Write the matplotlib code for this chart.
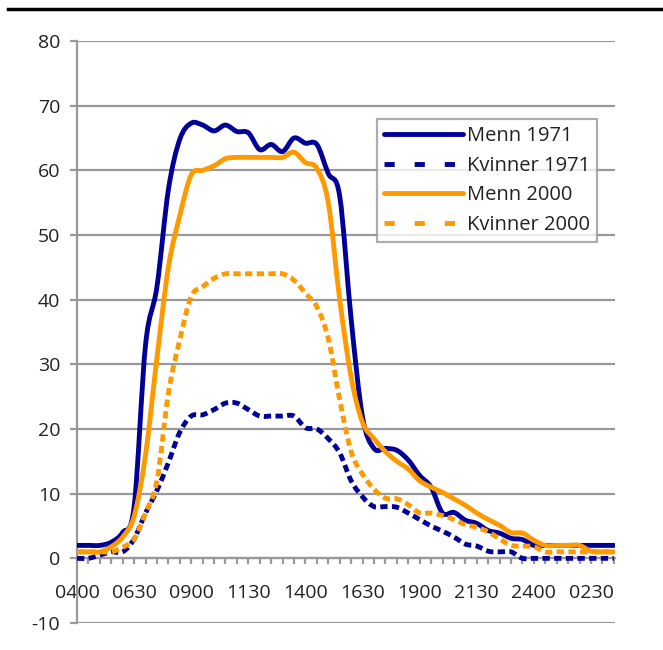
"""
Andel i arbeid gjennom døgnet, menn og kvinner 1971 og 2000
"""
import numpy as np
import matplotlib
matplotlib.use('Agg')
import matplotlib.pyplot as plt
from matplotlib.lines import Line2D
from matplotlib.path import Path
from matplotlib.patches import PathPatch

plt.rcParams['font.family'] = ['Open Sans', 'DejaVu Sans']
plt.rcParams['axes.unicode_minus'] = False

# klokkeslett (hver halvtime fra 0400 til 0330)
tider = ['0400', '0430', '0500', '0530', '0600', '0630', '0700', '0730',
         '0800', '0830', '0900', '0930', '1000', '1030', '1100', '1130',
         '1200', '1230', '1300', '1330', '1400', '1430', '1500', '1530',
         '1600', '1630', '1700', '1730', '1800', '1830', '1900', '1930',
         '2000', '2030', '2100', '2130', '2200', '2230', '2300', '2330',
         '2400', '0030', '0100', '0130', '0200', '0230', '0300', '0330']

menn_1971 = [2, 2, 2, 2.5, 4, 8, 33, 42,
             57, 64.8, 67.3, 67, 66.1, 67, 66, 65.8,
             63.2, 64, 62.9, 65, 64.2, 64, 59.5, 56,
             37, 21.8, 17, 17, 16.7, 15.2, 12.8, 11,
             7, 7.1, 5.9, 5.4, 4.3, 3.9, 3.1, 2.9,
             2, 2, 2, 2, 2, 2, 2, 2]

kvinner_1971 = [0, 0, 0.5, 1, 1, 3, 7, 10.5,
                14.8, 19.5, 22, 22.2, 23, 24, 24, 23,
                22, 22, 22, 22, 20.2, 20, 18.5, 16.3,
                12, 9.5, 8, 8, 7.9, 7, 6, 5,
                4.2, 3.3, 2.2, 1.9, 1.1, 1, 1, 0,
                0, 0, 0, 0, 0, 0, 0, 0]

menn_2000 = [1, 1, 1, 1.8, 3.3, 6.5, 16, 31,
             45, 53, 59.3, 60, 60.7, 61.8, 62, 62,
             62, 62, 62, 62.8, 61.2, 60.3, 55, 40,
             28, 21, 18.5, 16.5, 15, 13.8, 12, 11,
             10.2, 9.2, 8.2, 7, 6, 5.1, 4, 3.9,
             2.8, 2, 2, 2, 2, 1.1, 1, 1]

kvinner_2000 = [1, 1, 1, 1, 1.7, 3, 7, 12,
                25.5, 33.8, 40.5, 42, 43.3, 44, 44, 44,
                44, 44, 44, 43, 41, 38.9, 34, 24.5,
                16.5, 13, 10.7, 9.3, 9.2, 8.3, 7, 7,
                6.6, 6, 5.2, 4.8, 4.1, 3, 2, 1.9,
                1.8, 1, 1, 1, 1, 1, 1, 1]

serier = [('Menn 1971', menn_1971, '#000099', '-'),
          ('Kvinner 1971', kvinner_1971, '#000099', '--'),
          ('Menn 2000', menn_2000, '#FF9900', '-'),
          ('Kvinner 2000', kvinner_2000, '#FF9900', '--')]

# kategoriakse med 10-minutters steg, data hver halvtime
x = np.arange(len(tider)) * 3


def glatt_sti(xs, ys):
    # utglattet linje som i Excel (Bezier gjennom punktene)
    p = np.column_stack([xs, ys]).astype(float)
    pp = np.vstack([p[0], p, p[-1]])
    verts = [p[0]]
    codes = [Path.MOVETO]
    for i in range(len(p) - 1):
        c1 = pp[i + 1] + (pp[i + 2] - pp[i]) / 6
        c2 = pp[i + 2] - (pp[i + 3] - pp[i + 1]) / 6
        verts += [c1, c2, p[i + 1]]
        codes += [Path.CURVE4] * 3
    return Path(verts, codes)


fig = plt.figure(figsize=(6.63, 6.5), dpi=100)
ax = fig.add_axes([77 / 663, 1 - 623 / 650, (615 - 77) / 663, (623 - 41) / 650])

grid_col = '#999999'
lw = 3.5
for navn, verdier, farge, stil in serier:
    sti = glatt_sti(x, verdier)
    if stil == '--':
        patch = PathPatch(sti, fill=False, edgecolor=farge, lw=lw,
                          linestyle=(0, (1.5, 0.9)), capstyle='butt',
                          joinstyle='round', zorder=3)
    else:
        patch = PathPatch(sti, fill=False, edgecolor=farge, lw=lw,
                          capstyle='round', joinstyle='round', zorder=3)
    ax.add_patch(patch)

ax.set_xlim(0, 141.3)
ax.set_ylim(-10, 80)
ax.set_yticks(range(-10, 81, 10))
ax.yaxis.grid(True, color=grid_col, lw=1.6)
ax.set_axisbelow(True)

ax.set_xticks(x[::5])
ax.set_xticklabels(tider[::5])
ax.set_xticks(x, minor=True)

for s in ['top', 'right']:
    ax.spines[s].set_visible(False)
ax.spines['left'].set_color(grid_col)
ax.spines['left'].set_linewidth(1.6)
ax.spines['bottom'].set_position(('data', 0))
ax.spines['bottom'].set_color(grid_col)
ax.spines['bottom'].set_linewidth(1.6)

ax.tick_params(axis='y', length=5, width=1.6, color=grid_col, pad=7,
               labelsize=14, labelcolor='#222222')
ax.tick_params(axis='x', which='both', length=4.5, width=1.6, color=grid_col,
               pad=14, labelsize=14, labelcolor='#222222')

# legend med egne linjer
handles = []
for navn, verdier, farge, stil in serier:
    if stil == '--':
        h = Line2D([], [], color=farge, lw=lw, dashes=(2.1, 4.1), dash_capstyle='butt')
    else:
        h = Line2D([], [], color=farge, lw=lw, solid_capstyle='round')
    handles.append(h)
leg = ax.legend(handles, [s[0] for s in serier], loc='upper left',
                bbox_to_anchor=(377 / 663, 1 - 119 / 650), bbox_transform=fig.transFigure,
                borderaxespad=0, fontsize=14.5, frameon=True, fancybox=False,
                handlelength=3.9, handletextpad=0.2, labelspacing=0.48,
                borderpad=0.35)
leg.get_frame().set_edgecolor(grid_col)
leg.get_frame().set_linewidth(1.6)
for t in leg.get_texts():
    t.set_color('#222222')

# svart strek øverst
fig.add_artist(Line2D([8 / 663, 1], [1 - 9 / 650, 1 - 9 / 650], color='black', lw=2.5))

plt.savefig('out.png', dpi=100)
